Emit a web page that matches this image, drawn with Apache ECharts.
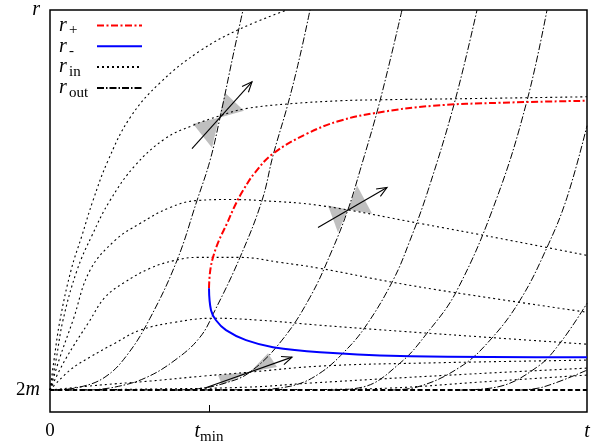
<!DOCTYPE html>
<html><head><meta charset="utf-8">
<script src="https://cdn.jsdelivr.net/npm/echarts@6/dist/echarts.min.js"></script>
<style>html,body{margin:0;padding:0;background:#fff}#c{width:597px;height:445px}</style>
</head><body><div id="c"></div>
<script>
// axis ranges and special tick values (chart units)
const T_MAX = 537, R_MAX = 403, R2M = 22, TMIN = 159;
const xTickValues = [0, TMIN, T_MAX];
const yTickValues = [R2M, R_MAX];

// r_in curves (dotted)
const rInA = [[0,22],[4,52],[10,92],[21,142],[32,177],[43,212],[58,252],[80,295],[110,330],[150,362],[190,384],[237,403]];
const rInB = [[0,22],[6,52],[13,92],[27,142],[42,177],[60,212],[85,247],[115,274],[142,287],[170,297],[195,304],[240,309],[290,312],[330,313],[407,314],[537,316]];
const rInC = [[0,22],[9,52],[23,92],[40,142],[65,172],[90,189],[120,205],[147,212],[180,213],[210,212],[270,207],[370,189],[450,174],[537,157]];
const rInD = [[0,22],[15,52],[40,92],[55,115],[73,129],[100,144],[125,152],[147,155],[190,155],[230,150],[270,144],[343,130],[403,120],[537,100]];
const rInE = [[0,22],[20,42],[40,55],[65,69],[90,82],[125,90],[163,94],[210,92],[270,87],[350,81],[450,74],[537,68]];
const rInF = [[0,22],[50,27],[100,31],[153,36],[200,40],[270,46],[370,49],[537,52]];
const rInG = [[0,22],[100,23],[200,25],[260,29],[400,37],[537,44]];
const rInH = [[0,22],[250,22.5],[340,24],[430,30],[537,37]];

// r_out curves (dash-dot)
const rOut1 = [[5,22],[30,25],[55,35],[77,57],[100,94],[127,152],[147,212],[160,252],[170,295],[183,357],[193,403]];
const rOut2 = [[40,22],[65,25],[95,34],[125,52],[150,75],[165,102],[190,155],[212,212],[223,257],[238,309],[250,357],[260,403]];
const rOut3 = [[120,22],[145,23],[175,29],[200,40],[232,72],[260,115],[282,162],[298,203],[310,242],[330,312],[352,403]];
const rOut4 = [[210,22],[245,27],[270,39],[293,59],[315,85],[343,132],[360,172],[378,222],[405,312],[427,403]];
const rOut5 = [[280,22],[313,25],[350,49],[377,79],[407,122],[447,215],[477,312],[497,403]];
const rOut6 = [[340,22],[367,25],[410,45],[440,72],[470,112],[497,165],[517,215],[537,287]];
const rOut7 = [[410,22],[447,25],[487,45],[510,69],[537,109]];
const rOut8 = [[470,22],[493,25],[537,42]];

// horizon r = 2m
const horizon = [[0,R2M],[T_MAX,R2M]];

// r+ and r-
const rPlus = [[159,124],[160,140],[163,155],[169,172],[177,189],[185,207],[193,222],[205,240],[223,259],[257,279],[290,292],[327,300],[383,307],[450,310],[537,312]];
const rMinus = [[159,124],[161,102],[166,92],[176,82],[196,72],[223,65],[270,60],[360,56],[537,55]];

// light cones
const coneCenter = [[169,295],[298,203],[200,40]];
const coneUpper = [[[175,320],[194,302]], [[307,227],[322,199]], [[218,59],[227,45]]];
const coneLower = [[[143,289],[162,265]], [[278,207],[288,180]], [[168,37],[172,27]]];
const arrowFrom = [[142,264],[268,185],[155,24]];
const arrowTo = [[202,331],[337,225],[242,55]];

const SERIF = 'Liberation Serif';
const richBase = {
  n: {fontFamily: SERIF, fontSize: 19, color: '#000'},
  i: {fontFamily: SERIF, fontSize: 20, fontStyle: 'italic', color: '#000'},
  s: {fontFamily: SERIF, fontSize: 15, color: '#000', padding: [10,0,0,0], lineHeight: 12}
};

const inStyle = {color: '#000', width: 1.1, type: [2,3]};
const outStyle = {color: '#000', width: 1, type: [7,2,1.5,2]};
function lineSeries(name, data, lineStyle, z) {
  return {type: 'line', name, data, symbol: 'none', smooth: 0.4, lineStyle, itemStyle: {color: lineStyle.color}, z: z || 2, silent: true};
}

const series = [
  {
    type: 'custom', name: 'cones', coordinateSystem: 'cartesian2d', z: 1, silent: true,
    data: coneCenter.map((c, i) => [c[0], c[1], i]),
    renderItem: (params, api) => {
      const i = api.value(2);
      const c = api.coord(coneCenter[i]);
      const u1 = api.coord(coneUpper[i][0]), u2 = api.coord(coneUpper[i][1]);
      const l1 = api.coord(coneLower[i][0]), l2 = api.coord(coneLower[i][1]);
      const a0 = api.coord(arrowFrom[i]), a1 = api.coord(arrowTo[i]);
      const ang = Math.atan2(a1[1]-a0[1], a1[0]-a0[0]);
      const hl = 11, ha = 0.4;
      const h1 = [a1[0]-hl*Math.cos(ang-ha), a1[1]-hl*Math.sin(ang-ha)];
      const h2 = [a1[0]-hl*Math.cos(ang+ha), a1[1]-hl*Math.sin(ang+ha)];
      return {type: 'group', children: [
        {type: 'polygon', shape: {points: [c,u1,u2]}, style: {fill: '#bfbfbf'}},
        {type: 'polygon', shape: {points: [c,l1,l2]}, style: {fill: '#bfbfbf'}},
        {type: 'line', shape: {x1:a0[0], y1:a0[1], x2:a1[0], y2:a1[1]}, style: {stroke: '#000', lineWidth: 1.1}},
        {type: 'polyline', shape: {points: [h1,a1,h2]}, style: {stroke: '#000', fill: null, lineWidth: 1.1}}
      ]};
    }
  },
  lineSeries('rplus', rPlus, {color: '#ff0000', width: 2, type: [7,2.5,2,2.5]}, 5),
  lineSeries('rminus', rMinus, {color: '#0000ff', width: 2, type: 'solid'}, 5),
  ...[rInA,rInB,rInC,rInD,rInE,rInF,rInG,rInH].map(d => lineSeries('rin', d, inStyle, 3)),
  ...[rOut1,rOut2,rOut3,rOut4,rOut5,rOut6,rOut7,rOut8].map(d => lineSeries('rout', d, outStyle, 3)),
  lineSeries('horizon', horizon, {color: '#000', width: 2, type: [5,2.5]}, 4)
];

const legendSub = {rplus: '+', rminus: '-', rin: 'in', rout: 'out'};

const chart = echarts.init(document.getElementById('c'), null, {renderer: 'canvas'});
chart.setOption({
  animation: false,
  backgroundColor: '#fff',
  grid: {left: 50, right: 10, top: 9, bottom: 33, show: true, borderColor: '#000', borderWidth: 1.5, backgroundColor: 'transparent'},
  legend: {
    data: ['rplus','rminus','rin','rout'],
    orient: 'vertical', left: 59, top: 13, padding: 0,
    align: 'right', itemWidth: 45, itemHeight: 10, itemGap: -4.2,
    itemStyle: {opacity: 0, borderWidth: 0},
    formatter: n => '{r|r}{s|' + legendSub[n] + '}',
    textStyle: {
      rich: {
        r: {fontFamily: SERIF, fontSize: 20, fontStyle: 'italic', color: '#000', width: 10, align: 'left', lineHeight: 14},
        s: {fontFamily: SERIF, fontSize: 15, color: '#000', width: 23, align: 'left', padding: [10,0,0,0], lineHeight: 12}
      }
    }
  },
  xAxis: {
    type: 'value', min: 0, max: T_MAX,
    axisLine: {show: false}, splitLine: {show: false},
    axisTick: {show: true, inside: true, length: 7, customValues: [TMIN], lineStyle: {color: '#000', width: 1}},
    axisLabel: {
      customValues: xTickValues, margin: 10, color: '#000',
      formatter: v => v === 0 ? '{n|0}' : (v === TMIN ? '{i|t}{s|min}' : '{i|t}'),
      rich: richBase
    }
  },
  yAxis: {
    type: 'value', min: 0, max: R_MAX,
    axisLine: {show: false}, splitLine: {show: false}, axisTick: {show: false},
    axisLabel: {
      customValues: yTickValues, margin: 10, color: '#000',
      formatter: v => v === R2M ? '{n|2}{i|m}' : '{i|r}',
      rich: richBase
    }
  },
  series
});
</script></body></html>
